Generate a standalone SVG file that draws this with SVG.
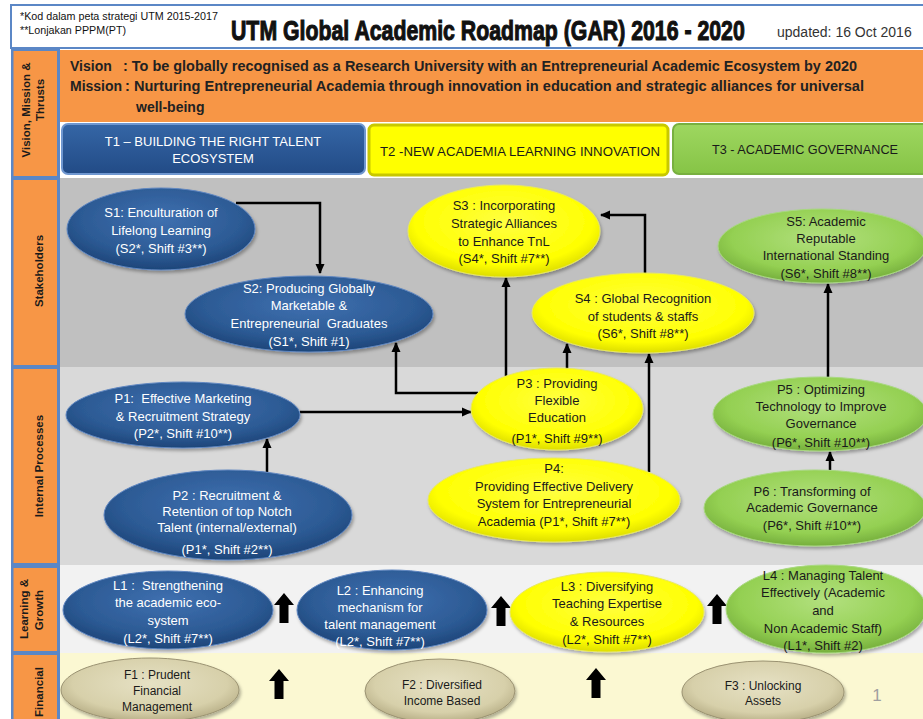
<svg xmlns="http://www.w3.org/2000/svg" width="923" height="719" viewBox="0 0 923 719">
<defs>
<radialGradient id="gBlue" cx="50%" cy="38%" r="62%"><stop offset="0" stop-color="#3f70b0"/><stop offset="0.7" stop-color="#2c5a94"/><stop offset="1" stop-color="#1d4579"/></radialGradient>
<radialGradient id="gYellow" cx="50%" cy="40%" r="62%"><stop offset="0" stop-color="#ffff40"/><stop offset="0.75" stop-color="#ffff00"/><stop offset="1" stop-color="#d8d800"/></radialGradient>
<radialGradient id="gGreen" cx="50%" cy="40%" r="62%"><stop offset="0" stop-color="#b2e07e"/><stop offset="0.7" stop-color="#94d052"/><stop offset="1" stop-color="#72ab3a"/></radialGradient>
<radialGradient id="gTan" cx="50%" cy="40%" r="62%"><stop offset="0" stop-color="#e6e1c4"/><stop offset="0.7" stop-color="#d7d0aa"/><stop offset="1" stop-color="#b3aa82"/></radialGradient>
<linearGradient id="gT1" x1="0" y1="0" x2="0" y2="1"><stop offset="0" stop-color="#3566a6"/><stop offset="1" stop-color="#224b86"/></linearGradient>
<linearGradient id="gT3" x1="0" y1="0" x2="0" y2="1"><stop offset="0" stop-color="#9ed760"/><stop offset="1" stop-color="#86c446"/></linearGradient>
<filter id="sh" x="-10%" y="-10%" width="125%" height="130%"><feDropShadow dx="1.5" dy="2.5" stdDeviation="1.5" flood-color="#000" flood-opacity="0.3"/></filter>
<marker id="ah" markerUnits="userSpaceOnUse" markerWidth="10" markerHeight="10" refX="9" refY="5" orient="auto"><path d="M0,0.5 L10,5 L0,9.5 z" fill="#000"/></marker>
<path id="blk" d="M0,0 L10,12 L4.5,12 L4.5,30 L-4.5,30 L-4.5,12 L-10,12 z"/>
</defs>
<style>
.n{font-family:"Liberation Sans",Arial,sans-serif;font-size:13px;text-anchor:middle}
.w{fill:#fff}
.d{fill:#1a1a1a}
.f{font-size:12px}
.lab{font-family:"Liberation Sans",Arial,sans-serif;font-size:11.5px;font-weight:bold;fill:#1a1a1a;text-anchor:middle}
.eB{fill:url(#gBlue);stroke:#5f86c0;stroke-width:1;filter:url(#sh)}
.eY{fill:url(#gYellow);stroke:#e8e860;stroke-width:1;filter:url(#sh)}
.eG{fill:url(#gGreen);stroke:#a8d880;stroke-width:1;filter:url(#sh)}
.eT{fill:url(#gTan);stroke:#9a9272;stroke-width:1;filter:url(#sh)}
.c{fill:none;stroke:#000;stroke-width:2.5;marker-end:url(#ah)}
.vm{font-family:"Liberation Sans",Arial,sans-serif;font-size:14px;font-weight:bold;fill:#222}
</style>

<!-- backgrounds -->
<rect x="0" y="0" width="923" height="719" fill="#ffffff"/>
<rect x="11" y="5" width="915" height="43" fill="#ffffff" stroke="#5b87c6" stroke-width="2"/>
<rect x="60" y="50" width="866" height="72" fill="#f79646"/>
<rect x="60" y="122" width="866" height="56" fill="#ffffff"/>
<rect x="60" y="178" width="866" height="189" fill="#c0c0c0"/>
<rect x="60" y="367" width="866" height="198" fill="#d9d9d9"/>
<rect x="60" y="565" width="866" height="88" fill="#f2f2f2"/>
<rect x="60" y="653" width="866" height="70" fill="#fbf8d2"/>

<!-- left column -->
<g id="leftcol">
<rect x="11" y="48" width="49" height="675" fill="#5b87c6"/>
<rect x="13.5" y="51" width="43.5" height="125" fill="#f79646"/>
<rect x="13.5" y="180" width="43.5" height="185" fill="#f79646"/>
<rect x="13.5" y="369" width="43.5" height="194" fill="#f79646"/>
<rect x="13.5" y="568" width="43.5" height="83" fill="#f79646"/>
<rect x="13.5" y="655" width="43.5" height="70" fill="#f79646"/>
<text class="lab" transform="translate(30,110) rotate(-90)">Vision, Mission &amp;</text>
<text class="lab" transform="translate(44,100) rotate(-90)">Thrusts</text>
<text class="lab" transform="translate(43,271) rotate(-90)">Stakeholders</text>
<text class="lab" transform="translate(43,466) rotate(-90)">Internal Processes</text>
<text class="lab" transform="translate(28,609) rotate(-90)">Learning &amp;</text>
<text class="lab" transform="translate(43,610) rotate(-90)">Growth</text>
<text class="lab" transform="translate(43,692) rotate(-90)">Financial</text>
</g>

<!-- header -->
<g id="header">
<text x="20" y="20" font-family="'Liberation Sans',Arial,sans-serif" font-size="10" fill="#111" textLength="198" lengthAdjust="spacingAndGlyphs">*Kod dalam peta strategi UTM 2015-2017</text>
<text x="20" y="34" font-family="'Liberation Sans',Arial,sans-serif" font-size="10" fill="#111" textLength="106" lengthAdjust="spacingAndGlyphs">**Lonjakan PPPM(PT)</text>
<text transform="translate(231,40) scale(0.7,1)" x="0" y="0" font-family="'Liberation Sans',Arial,sans-serif" font-size="28" font-weight="bold" fill="#111" stroke="#111" stroke-width="1.1" textLength="734" lengthAdjust="spacingAndGlyphs">UTM Global Academic Roadmap (GAR) 2016 - 2020</text>
<text x="777" y="37" font-family="'Liberation Sans',Arial,sans-serif" font-size="14" fill="#333">updated: 16 Oct 2016</text>
</g>

<!-- vision / mission -->
<g id="vision">
<text class="vm" x="70" y="71">Vision</text>
<text class="vm" x="123" y="71" textLength="734" lengthAdjust="spacingAndGlyphs">: To be globally recognised as a Research University with an Entrepreneurial Academic Ecosystem by 2020</text>
<text class="vm" x="70" y="91">Mission</text>
<text class="vm" x="125" y="91" textLength="739" lengthAdjust="spacingAndGlyphs">: Nurturing Entrepreneurial Academia through innovation in education and strategic alliances for universal</text>
<text class="vm" x="136" y="112">well-being</text>
</g>

<!-- thrusts -->
<g id="T1">
<rect x="62" y="124" width="303" height="50" rx="6" fill="url(#gT1)" stroke="#6f97d0" stroke-width="2"/>
<text class="n w" x="213" y="146">T1 – BUILDING THE RIGHT TALENT</text>
<text class="n w" x="213" y="163">ECOSYSTEM</text>
</g>
<g id="T2">
<rect x="369" y="125" width="299" height="50" rx="5" fill="#ffff00" stroke="#c8c800" stroke-width="3"/>
<text class="n d" x="520" y="156" textLength="280" lengthAdjust="spacingAndGlyphs">T2 -NEW ACADEMIA LEARNING INNOVATION</text>
</g>
<g id="T3">
<rect x="673" y="124" width="260" height="50" rx="6" fill="url(#gT3)" stroke="#78b040" stroke-width="2"/>
<text class="n d" x="805" y="154" textLength="186" lengthAdjust="spacingAndGlyphs">T3 - ACADEMIC GOVERNANCE</text>
</g>

<!-- connectors -->
<g id="connectors">
<path class="c" d="M236,203 H320 V273"/>
<path class="c" d="M645,274 V215 H601"/>
<path class="c" d="M506,376 V278"/>
<path class="c" d="M567,369 V344"/>
<path class="c" d="M649,472 V354"/>
<path class="c" d="M478,393 H396 V343"/>
<path class="c" d="M300,412 H471"/>
<path class="c" d="M267,472 V439"/>
<path class="c" d="M828,377 V284"/>
<path class="c" d="M830,470 V452"/>
<use href="#blk" x="284" y="593"/>
<use href="#blk" x="501" y="596"/>
<use href="#blk" x="717" y="594"/>
<use href="#blk" x="279" y="669"/>
<use href="#blk" x="596" y="668"/>
</g>

<!-- stakeholders -->
<g id="S1">
<ellipse class="eB" cx="161" cy="229" rx="94" ry="41"/>
<text class="n w" x="161" y="217">S1: Enculturation of</text>
<text class="n w" x="161" y="235">Lifelong Learning</text>
<text class="n w" x="161" y="253">(S2*, Shift #3**)</text>
</g>
<g id="S2">
<ellipse class="eB" cx="309" cy="314" rx="124" ry="38"/>
<text class="n w" x="309" y="293">S2: Producing Globally</text>
<text class="n w" x="309" y="310">Marketable &amp;</text>
<text class="n w" x="309" y="328" xml:space="preserve">Entrepreneurial  Graduates</text>
<text class="n w" x="309" y="346">(S1*, Shift #1)</text>
</g>
<g id="S3">
<ellipse class="eY" cx="504" cy="231" rx="96" ry="46"/>
<text class="n d" x="504" y="210">S3 : Incorporating</text>
<text class="n d" x="504" y="228">Strategic Alliances</text>
<text class="n d" x="504" y="246">to Enhance TnL</text>
<text class="n d" x="504" y="263">(S4*, Shift #7**)</text>
</g>
<g id="S4">
<ellipse class="eY" cx="643" cy="313" rx="111" ry="40"/>
<text class="n d" x="643" y="303">S4 : Global Recognition</text>
<text class="n d" x="643" y="321">of students &amp; staffs</text>
<text class="n d" x="643" y="338">(S6*, Shift #8**)</text>
</g>
<g id="S5">
<ellipse class="eG" cx="822" cy="246" rx="104" ry="37"/>
<text class="n d" x="826" y="226">S5: Academic</text>
<text class="n d" x="826" y="243">Reputable</text>
<text class="n d" x="826" y="260">International Standing</text>
<text class="n d" x="826" y="278">(S6*, Shift #8**)</text>
</g>

<!-- internal processes -->
<g id="P1">
<ellipse class="eB" cx="183" cy="415" rx="117" ry="33"/>
<text class="n w" x="183" y="403" xml:space="preserve">P1:  Effective Marketing</text>
<text class="n w" x="183" y="421">&amp; Recruitment Strategy</text>
<text class="n w" x="183" y="438">(P2*, Shift #10**)</text>
</g>
<g id="P2">
<ellipse class="eB" cx="228" cy="515" rx="124" ry="45"/>
<text class="n w" x="227" y="500">P2 : Recruitment &amp;</text>
<text class="n w" x="227" y="516">Retention of top Notch</text>
<text class="n w" x="227" y="532">Talent (internal/external)</text>
<text class="n w" x="227" y="554">(P1*, Shift #2**)</text>
</g>
<g id="P3">
<ellipse class="eY" cx="557" cy="409" rx="86" ry="41"/>
<text class="n d" x="557" y="388">P3 : Providing</text>
<text class="n d" x="557" y="405">Flexible</text>
<text class="n d" x="557" y="422">Education</text>
<text class="n d" x="557" y="443">(P1*, Shift #9**)</text>
</g>
<g id="P4">
<ellipse class="eY" cx="554" cy="500" rx="126" ry="42"/>
<text class="n d" x="554" y="473">P4:</text>
<text class="n d" x="554" y="491">Providing Effective Delivery</text>
<text class="n d" x="554" y="508">System for Entrepreneurial</text>
<text class="n d" x="554" y="526">Academia (P1*, Shift #7**)</text>
</g>
<g id="P5">
<ellipse class="eG" cx="820" cy="414" rx="107" ry="37"/>
<text class="n d" x="821" y="394">P5 : Optimizing</text>
<text class="n d" x="821" y="411">Technology to Improve</text>
<text class="n d" x="821" y="428">Governance</text>
<text class="n d" x="821" y="447" font-size="14.5">(P6*, Shift #10**)</text>
</g>
<g id="P6">
<ellipse class="eG" cx="815" cy="508" rx="111" ry="38"/>
<text class="n d" x="812" y="496">P6 : Transforming of</text>
<text class="n d" x="812" y="512">Academic Governance</text>
<text class="n d" x="812" y="530">(P6*, Shift #10**)</text>
</g>

<!-- learning & growth -->
<g id="L1">
<ellipse class="eB" cx="168" cy="610" rx="105" ry="39"/>
<text class="n w" x="168" y="590" xml:space="preserve">L1 :  Strengthening</text>
<text class="n w" x="168" y="607">the academic eco-</text>
<text class="n w" x="168" y="625">system</text>
<text class="n w" x="168" y="643">(L2*, Shift #7**)</text>
</g>
<g id="L2">
<ellipse class="eB" cx="392" cy="610" rx="95" ry="40"/>
<text class="n w" x="380" y="595">L2 : Enhancing</text>
<text class="n w" x="380" y="612">mechanism for</text>
<text class="n w" x="380" y="629">talent management</text>
<text class="n w" x="380" y="646">(L2*, Shift #7**)</text>
</g>
<g id="L3">
<ellipse class="eY" cx="607" cy="612" rx="97" ry="40"/>
<text class="n d" x="607" y="591">L3 : Diversifying</text>
<text class="n d" x="607" y="608">Teaching Expertise</text>
<text class="n d" x="607" y="626">&amp; Resources</text>
<text class="n d" x="607" y="644">(L2*, Shift #7**)</text>
</g>
<g id="L4">
<ellipse class="eG" cx="826" cy="609" rx="100" ry="44"/>
<text class="n d" x="823" y="580">L4 : Managing Talent</text>
<text class="n d" x="823" y="597">Effectively (Academic</text>
<text class="n d" x="823" y="615">and</text>
<text class="n d" x="823" y="633">Non Academic Staff)</text>
<text class="n d" x="823" y="650">(L1*, Shift #2)</text>
</g>

<!-- financial -->
<g id="F1">
<ellipse class="eT" cx="150" cy="690" rx="89" ry="32"/>
<text class="n f d" x="157" y="679">F1 : Prudent</text>
<text class="n f d" x="157" y="695">Financial</text>
<text class="n f d" x="157" y="711">Management</text>
</g>
<g id="F2">
<ellipse class="eT" cx="440" cy="691" rx="75" ry="32"/>
<text class="n f d" x="442" y="689">F2 : Diversified</text>
<text class="n f d" x="442" y="705">Income Based</text>
</g>
<g id="F3">
<ellipse class="eT" cx="763" cy="692" rx="81" ry="31"/>
<text class="n f d" x="763" y="690">F3 : Unlocking</text>
<text class="n f d" x="763" y="705">Assets</text>
</g>
<text x="877" y="701" font-family="'Liberation Sans',Arial,sans-serif" font-size="17" fill="#a0a0a0" text-anchor="middle">1</text>
</svg>
